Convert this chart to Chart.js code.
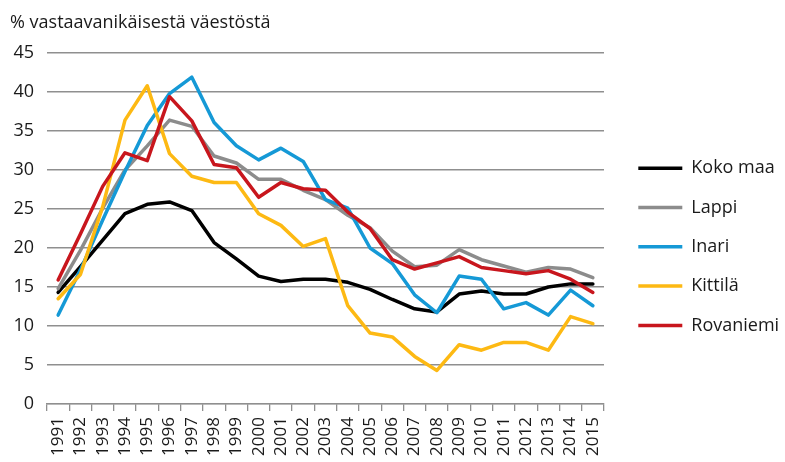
<!DOCTYPE html>
<html>
<head>
<meta charset="utf-8">
<script src="https://cdn.jsdelivr.net/npm/chart.js@4.4.1/dist/chart.umd.min.js"></script>
<style>
  html, body { margin: 0; padding: 0; background: #ffffff; }
  #wrap { width: 785px; height: 462px; position: relative; }
</style>
</head>
<body>
<div id="wrap"><canvas id="c" width="785" height="462"></canvas></div>
<script>
const titleText = '% vastaavanikäisestä väestöstä';
const years = ['1991','1992','1993','1994','1995','1996','1997','1998','1999','2000','2001','2002','2003','2004','2005','2006','2007','2008','2009','2010','2011','2012','2013','2014','2015'];
const seriesNames = ['Koko maa', 'Lappi', 'Inari', 'Kittilä', 'Rovaniemi'];
const kokoMaa   = [14.3, 17.6, 21.0, 24.4, 25.6, 25.9, 24.8, 20.7, 18.6, 16.4, 15.7, 16.0, 16.0, 15.6, 14.7, 13.4, 12.2, 11.8, 14.1, 14.5, 14.1, 14.1, 15.0, 15.4, 15.4];
const lappi     = [14.8, 19.7, 25.1, 30.0, 33.1, 36.4, 35.6, 31.8, 30.9, 28.8, 28.8, 27.4, 26.2, 24.2, 22.6, 19.6, 17.6, 17.8, 19.8, 18.5, 17.7, 16.9, 17.5, 17.3, 16.2];
const inari     = [11.4, 17.2, 23.6, 29.8, 35.7, 39.8, 41.9, 36.1, 33.1, 31.3, 32.8, 31.1, 26.2, 25.1, 20.0, 18.0, 14.0, 11.7, 16.4, 16.0, 12.2, 13.0, 11.4, 14.6, 12.6];
const kittila   = [13.5, 16.6, 25.3, 36.4, 40.8, 32.1, 29.2, 28.4, 28.4, 24.4, 22.9, 20.2, 21.2, 12.6, 9.1, 8.6, 6.1, 4.3, 7.6, 6.9, 7.9, 7.9, 6.9, 11.2, 10.3];
const rovaniemi = [15.9, 21.8, 27.9, 32.2, 31.2, 39.4, 36.3, 30.7, 30.3, 26.5, 28.4, 27.6, 27.4, 24.6, 22.5, 18.5, 17.3, 18.1, 18.9, 17.5, 17.1, 16.7, 17.1, 16.0, 14.3];
const yTicksMin = 0, yTicksMax = 45, yTicksStep = 5;

const seriesValues = [kokoMaa, lappi, inari, kittila, rovaniemi];
const seriesColors = ['#000000', '#8c8c8c', '#1599d6', '#fdb913', '#c8161d'];
const drawOrder = [5, 4, 3, 2, 1];

const FONT = "'Open Sans', sans-serif";
const gridGrey = '#8f8f8f';

const datasets = seriesNames.map((name, i) => ({
  label: name,
  data: seriesValues[i],
  borderColor: seriesColors[i],
  backgroundColor: seriesColors[i],
  borderWidth: 3.5,
  pointRadius: 0,
  pointHoverRadius: 0,
  pointStyle: 'line',
  tension: 0,
  fill: false,
  borderJoinStyle: 'round',
  borderCapStyle: 'round',
  order: drawOrder[i]
}));

new Chart(document.getElementById('c'), {
  type: 'line',
  data: { labels: years, datasets },
  options: {
    responsive: false,
    animation: false,
    devicePixelRatio: 1,
    layout: { padding: { left: 10, right: 0, top: 0, bottom: 0 } },
    plugins: {
      tooltip: { enabled: false },
      title: {
        display: true,
        text: titleText,
        align: 'start',
        color: '#1a1a1a',
        font: { family: FONT, size: 18, weight: 'normal' },
        padding: { top: 12, bottom: 19.4 }
      },
      legend: {
        display: true,
        position: 'right',
        align: 'center',
        maxWidth: 168,
        title: { display: true, text: ' ', padding: 5, font: { family: FONT, size: 18 } },
        labels: {
          usePointStyle: true,
          pointStyleWidth: 44,
          padding: 21.3,
          color: '#1a1a1a',
          font: { family: FONT, size: 18 },
          sort: (a, b) => a.datasetIndex - b.datasetIndex
        }
      }
    },
    scales: {
      x: {
        type: 'category',
        offset: true,
        grid: { display: true, drawOnChartArea: false, drawTicks: true, tickLength: 7, offset: true, color: gridGrey, lineWidth: 1.3 },
        border: { display: true, color: gridGrey, width: 1.3 },
        ticks: { autoSkip: false, minRotation: 90, maxRotation: 90, padding: 6, color: '#1a1a1a', font: { family: FONT, size: 17 } },
        afterFit(s) { s.height = 58; }
      },
      y: {
        min: yTicksMin,
        max: yTicksMax,
        grid: { color: gridGrey, lineWidth: 1.5, drawTicks: false },
        border: { display: false },
        ticks: { stepSize: yTicksStep, padding: 13, color: '#1a1a1a', font: { family: FONT, size: 18 } },
        afterFit(s) { s.width = 37; }
      },
      yR: {
        position: 'right',
        display: true,
        grid: { display: false },
        border: { display: false },
        ticks: { display: false },
        afterFit(s) { s.width = 13; }
      }
    }
  }
});
</script>
</body>
</html>
